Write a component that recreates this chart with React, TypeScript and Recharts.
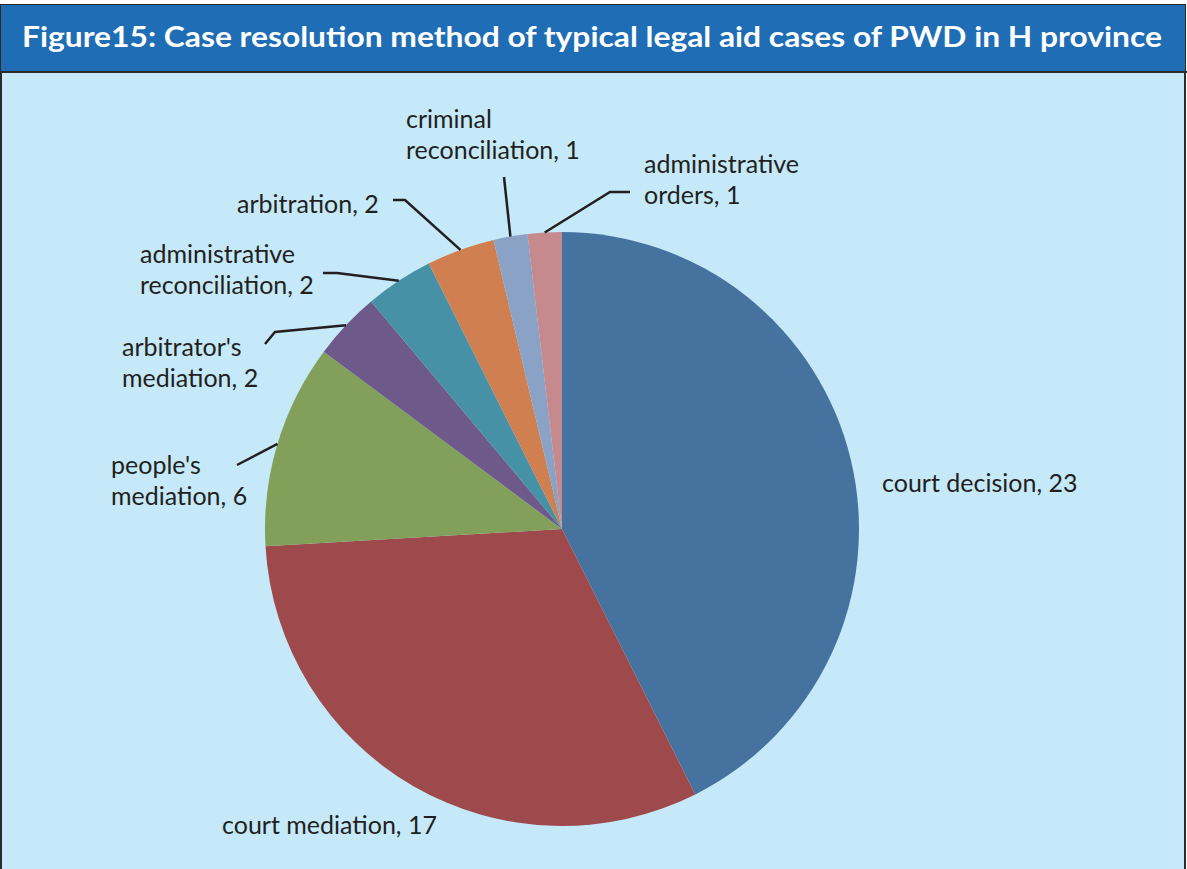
import { Cell, Pie, PieChart } from "recharts";

const categories = [
  "court decision",
  "court mediation",
  "people's mediation",
  "arbitrator's mediation",
  "administrative reconciliation",
  "arbitration",
  "criminal reconciliation",
  "administrative orders",
];
const counts = [23, 17, 6, 2, 2, 2, 1, 1];

// label text broken into lines the way the original figure shows them
const labelLines = [
  ["court decision, 23"],
  ["court mediation, 17"],
  ["people's", "mediation, 6"],
  ["arbitrator's", "mediation, 2"],
  ["administrative", "reconciliation, 2"],
  ["arbitration, 2"],
  ["criminal", "reconciliation, 1"],
  ["administrative", "orders, 1"],
];

const colors = ["#4672a0", "#9e4a4c", "#83a05a", "#6e5a8a", "#4691a6", "#d08050", "#8aa2c6", "#c68a8e"];

const data = categories.map((name, i) => ({ name, value: counts[i] }));

// label placement relative to the pie centre: text x, first baseline y, leader elbows
const layout: { x: number; y: number; line: [number, number][] }[] = [
  { x: 320, y: -37, line: [] },
  { x: -340, y: 305, line: [] },
  { x: -451, y: -55, line: [[-325, -64]] },
  { x: -440, y: -173, line: [[-287, -197], [-297, -185]] },
  { x: -422, y: -266, line: [[-225, -256], [-239, -256]] },
  { x: -325, y: -316, line: [[-157, -329], [-169, -329]] },
  { x: -156, y: -401, line: [[-58, -352]] },
  { x: 82, y: -356, line: [[48, -337], [68, -337]] },
];

const RAD = Math.PI / 180;
const FONT = "Lato, 'Open Sans', sans-serif";

const renderLabel = (props: any) => {
  const { cx, cy, midAngle, outerRadius, index } = props;
  const cfg = layout[index];
  const sx = cx + outerRadius * Math.cos(-midAngle * RAD);
  const sy = cy + outerRadius * Math.sin(-midAngle * RAD);
  const pts = [[sx, sy], ...cfg.line.map(([dx, dy]) => [cx + dx, cy + dy])];
  return (
    <g key={`lbl-${index}`}>
      {cfg.line.length > 0 && (
        <polyline
          points={pts.map((p) => p.join(",")).join(" ")}
          fill="none"
          stroke="#231f20"
          strokeWidth={2.5}
        />
      )}
      <text x={cx + cfg.x} y={cy + cfg.y} fill="#231f20" fontSize={25} fontFamily={FONT}>
        {labelLines[index].map((t, j) => (
          <tspan key={j} x={cx + cfg.x} dy={j === 0 ? 0 : 31}>
            {t}
          </tspan>
        ))}
      </text>
    </g>
  );
};

export default function App() {
  return (
    <div style={{ position: "absolute", left: 0, top: 0, width: 1187, height: 869, background: "#fff", overflow: "hidden" }}>
      <div
        style={{
          position: "absolute",
          left: 0,
          top: 4,
          width: 1186,
          height: 880,
          boxSizing: "border-box",
          border: "2px solid #2b2b2b",
          background: "#c5e9f8",
        }}
      />
      <svg width={1187} height={74} style={{ position: "absolute", left: 0, top: 0 }}>
        <rect x={1} y={5} width={1184} height={66} fill="#1e6db5" />
        <line x1={0} y1={72} x2={1187} y2={72} stroke="#2b2b2b" strokeWidth={2} />
        <text
          x={22}
          y={47}
          fill="#fff"
          fontSize={28}
          fontWeight={700}
          fontFamily={FONT}
          textLength={1140}
          lengthAdjust="spacingAndGlyphs"
        >
          Figure15: Case resolution method of typical legal aid cases of PWD in H province
        </text>
      </svg>
      <div style={{ position: "absolute", left: 0, top: 0 }}>
        <PieChart width={1187} height={869} margin={{ top: 0, right: 0, bottom: 0, left: 0 }}>
          <Pie
            data={data}
            dataKey="value"
            nameKey="name"
            cx={562}
            cy={529}
            outerRadius={297}
            startAngle={90}
            endAngle={-270}
            stroke="none"
            label={renderLabel}
            labelLine={false}
            isAnimationActive={false}
          >
            {data.map((d, i) => (
              <Cell key={d.name} fill={colors[i]} />
            ))}
          </Pie>
        </PieChart>
      </div>
    </div>
  );
}
